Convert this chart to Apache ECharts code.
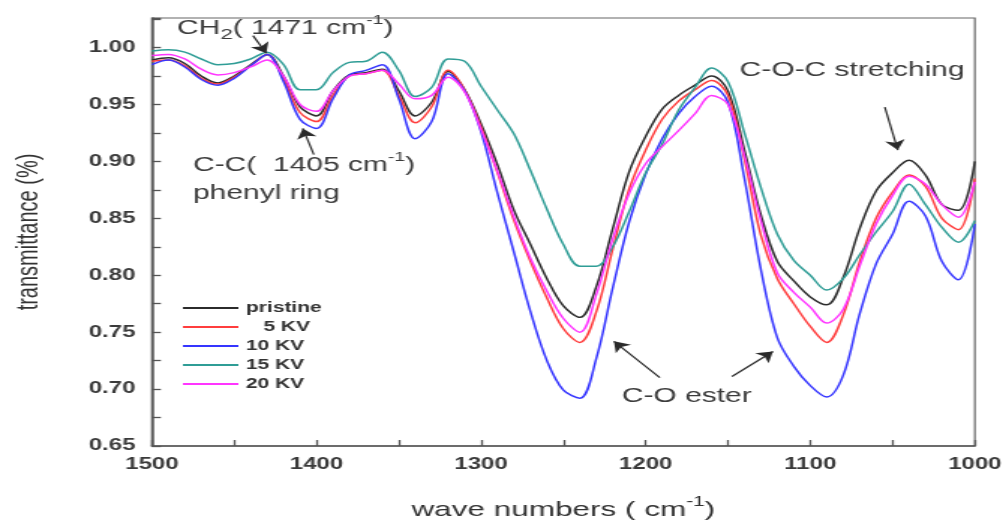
<!DOCTYPE html>
<html>
<head>
<meta charset="utf-8">
<script src="https://cdn.jsdelivr.net/npm/echarts@6/dist/echarts.min.js"></script>
<style>
  html, body { margin: 0; padding: 0; background: #fff; overflow: hidden; }
  /* the source figure is stretched sideways (~1.5x), so draw it narrow and stretch it */
  #the-chart { width: 671px; height: 528px; transform: scaleX(1.4993); transform-origin: 0 0; }
</style>
</head>
<body>
<div id="the-chart"></div>
<script>
// wave numbers (cm-1), 1500 -> 1000
const waveNumbers = [1500, 1490, 1480, 1470, 1460, 1450, 1440, 1430, 1420, 1410,
  1400, 1390, 1380, 1370, 1360, 1350, 1340, 1330, 1320, 1310,
  1300, 1290, 1280, 1270, 1260, 1250, 1240, 1230, 1220, 1210,
  1200, 1190, 1180, 1170, 1160, 1150, 1140, 1130, 1120, 1110,
  1100, 1090, 1080, 1070, 1060, 1050, 1040, 1030, 1020, 1010, 1000];

// transmittance
const pristine = [0.989, 0.991, 0.986, 0.975, 0.969, 0.975, 0.985, 0.994, 0.975, 0.948,
  0.940, 0.962, 0.976, 0.978, 0.981, 0.962, 0.940, 0.952, 0.979, 0.963,
  0.933, 0.897, 0.857, 0.827, 0.797, 0.773, 0.763, 0.790, 0.841, 0.891,
  0.922, 0.946, 0.958, 0.967, 0.975, 0.962, 0.910, 0.853, 0.812, 0.795,
  0.781, 0.774, 0.798, 0.841, 0.874, 0.890, 0.901, 0.888, 0.862, 0.857, 0.900];

const kv5 = [0.988, 0.989, 0.984, 0.973, 0.968, 0.974, 0.984, 0.994, 0.972, 0.943,
  0.935, 0.958, 0.975, 0.977, 0.980, 0.958, 0.934, 0.948, 0.980, 0.963,
  0.930, 0.890, 0.848, 0.812, 0.780, 0.753, 0.741, 0.768, 0.823, 0.876,
  0.910, 0.937, 0.953, 0.963, 0.971, 0.958, 0.902, 0.835, 0.797, 0.775,
  0.755, 0.741, 0.765, 0.812, 0.850, 0.873, 0.888, 0.878, 0.850, 0.840, 0.885];

const kv10 = [0.985, 0.989, 0.983, 0.972, 0.967, 0.973, 0.984, 0.994, 0.970, 0.937,
  0.929, 0.955, 0.976, 0.980, 0.985, 0.955, 0.920, 0.935, 0.977, 0.962,
  0.926, 0.872, 0.820, 0.768, 0.725, 0.699, 0.692, 0.727, 0.789, 0.847,
  0.889, 0.920, 0.942, 0.957, 0.966, 0.952, 0.885, 0.805, 0.745, 0.720,
  0.703, 0.693, 0.712, 0.766, 0.810, 0.836, 0.865, 0.852, 0.812, 0.796, 0.845];

const kv15 = [0.997, 0.998, 0.996, 0.990, 0.985, 0.986, 0.990, 0.996, 0.985, 0.963,
  0.963, 0.978, 0.987, 0.988, 0.996, 0.980, 0.957, 0.965, 0.990, 0.988,
  0.966, 0.945, 0.924, 0.892, 0.858, 0.827, 0.808, 0.808, 0.825, 0.856,
  0.890, 0.915, 0.945, 0.965, 0.982, 0.970, 0.925, 0.877, 0.836, 0.813,
  0.800, 0.787, 0.797, 0.818, 0.838, 0.856, 0.880, 0.862, 0.842, 0.829, 0.848];

const kv20 = [0.993, 0.994, 0.990, 0.981, 0.976, 0.978, 0.983, 0.989, 0.975, 0.950,
  0.944, 0.962, 0.975, 0.977, 0.980, 0.968, 0.955, 0.958, 0.974, 0.961,
  0.928, 0.891, 0.851, 0.815, 0.786, 0.762, 0.750, 0.783, 0.832, 0.872,
  0.898, 0.913, 0.927, 0.942, 0.958, 0.950, 0.905, 0.848, 0.802, 0.785,
  0.772, 0.758, 0.770, 0.808, 0.845, 0.870, 0.887, 0.880, 0.862, 0.851, 0.882];

const seriesNames = ["pristine", "5 KV", "10 KV", "15 KV", "20 KV"];
const seriesValues = [pristine, kv5, kv10, kv15, kv20];
const seriesColors = ["#2b2b2b", "#ff3d3d", "#3535ff", "#2f9d96", "#ff35ff"];

const fontName = "'Liberation Sans', Arial, sans-serif";
const textColor = "#3a3a3a";

let myChart = echarts.init(document.getElementById("the-chart"));

// pairs [wave number, transmittance] for each series
function toPairs(values) {
  return waveNumbers.map((w, i) => [w, values[i]]);
}

// annotation text: main token, sub and sup
const annotRich = {
  a: { fontSize: 20, lineHeight: 28, fontFamily: fontName, fill: "#3c3c3c" },
  b: { fontSize: 15, lineHeight: 12, verticalAlign: "bottom", fontFamily: fontName, fill: "#3c3c3c" },
  c: { fontSize: 13, lineHeight: 10, verticalAlign: "top", fontFamily: fontName, fill: "#3c3c3c" },
};

let series = seriesNames.map((name, k) => ({
  name: name,
  type: "line",
  data: toPairs(seriesValues[k]),
  showSymbol: false,
  symbol: "none",
  smooth: 0.35,
  color: seriesColors[k],
  lineStyle: { width: 1.5, color: seriesColors[k] },
  emphasis: { disabled: true },
  animation: false,
}));

// arrows of the annotations, in data coordinates
series[0].markLine = {
  silent: true,
  animation: false,
  symbol: ["none", "arrow"],
  symbolSize: 10,
  label: { show: false },
  lineStyle: { color: "#2a2a2a", width: 1.2, type: "solid" },
  emphasis: { disabled: true },
  data: [
    [{ coord: [1438.6, 1.0105] }, { coord: [1430.5, 0.995] }],
    [{ coord: [1401.6, 0.906] }, { coord: [1408.3, 0.929] }],
    [{ coord: [1054.7, 0.9476] }, { coord: [1046.8, 0.910] }],
    [{ coord: [1191.4, 0.710] }, { coord: [1219.3, 0.742] }],
    [{ coord: [1147.6, 0.711] }, { coord: [1122.7, 0.733] }],
  ],
};

let option = {
  backgroundColor: "#fff",
  animation: false,
  grid: {
    left: 101.3,
    right: 20.7,
    top: 18,
    bottom: 82,
    show: true,
    borderColor: "#666",
    borderWidth: 1.2,
  },
  legend: {
    orient: "vertical",
    left: 122,
    top: 300,
    padding: 0,
    icon: "rect",
    itemWidth: 37,
    itemHeight: 2,
    itemGap: 3,
    data: seriesNames,
    formatter: (name) => (name === "5 KV" ? "   5 KV" : name),
    textStyle: { fontSize: 14, fontWeight: "bold", color: "#333", fontFamily: fontName, lineHeight: 16 },
  },
  xAxis: {
    type: "value",
    inverse: true,
    min: 1000,
    max: 1500,
    interval: 50,
    axisLine: { show: true, lineStyle: { color: "#555", width: 1.5 } },
    axisTick: { show: true, inside: true, length: 6, lineStyle: { color: "#555", width: 1.3 } },
    splitLine: { show: false },
    axisLabel: {
      formatter: (v) => (Math.round(v) % 100 === 0 ? String(Math.round(v)) : ""),
      fontSize: 16,
      fontWeight: "bold",
      color: textColor,
      fontFamily: fontName,
      margin: 11,
    },
    name: "{a|wave numbers ( cm}{s|-1}{a|)}",
    nameLocation: "middle",
    nameGap: 49,
    nameTextStyle: {
      rich: {
        a: { fontSize: 21, lineHeight: 30, color: "#333", fontFamily: fontName },
        s: { fontSize: 14, lineHeight: 12, verticalAlign: "top", color: "#333", fontFamily: fontName },
      },
    },
  },
  yAxis: {
    type: "value",
    min: 0.65,
    max: 1.026,
    interval: 0.025,
    axisLine: { show: true, lineStyle: { color: "#555", width: 1.5 } },
    axisTick: { show: true, inside: true, length: 6, lineStyle: { color: "#555", width: 1.3 } },
    splitLine: { show: false },
    axisLabel: {
      formatter: (v) => (Math.round(v * 1000) % 50 === 0 ? v.toFixed(2) : ""),
      fontSize: 16,
      fontWeight: "bold",
      color: textColor,
      fontFamily: fontName,
      margin: 11,
    },
    name: "transmittance (%)",
    nameLocation: "middle",
    nameGap: 72,
    nameTextStyle: { fontSize: 20, color: "#333", fontFamily: fontName },
  },
  graphic: [
    {
      type: "text",
      left: 118,
      top: 14,
      silent: true,
      style: { text: "{a|CH}{b|2}{a|( 1471 cm}{c|-1}{a|)}", rich: annotRich },
    },
    {
      type: "text",
      left: 128.7,
      top: 151,
      silent: true,
      style: { text: "{a|C-C(  1405 cm}{c|-1}{a|)}\n{a|phenyl ring}", rich: annotRich },
    },
    {
      type: "text",
      left: 493.3,
      top: 60,
      silent: true,
      style: { text: "{a|C-O-C stretching}", rich: annotRich },
    },
    {
      type: "text",
      left: 414.7,
      top: 386,
      silent: true,
      style: { text: "{a|C-O ester}", rich: annotRich },
    },
  ],
  series: series,
};

option && myChart.setOption(option);
</script>
</body>
</html>
